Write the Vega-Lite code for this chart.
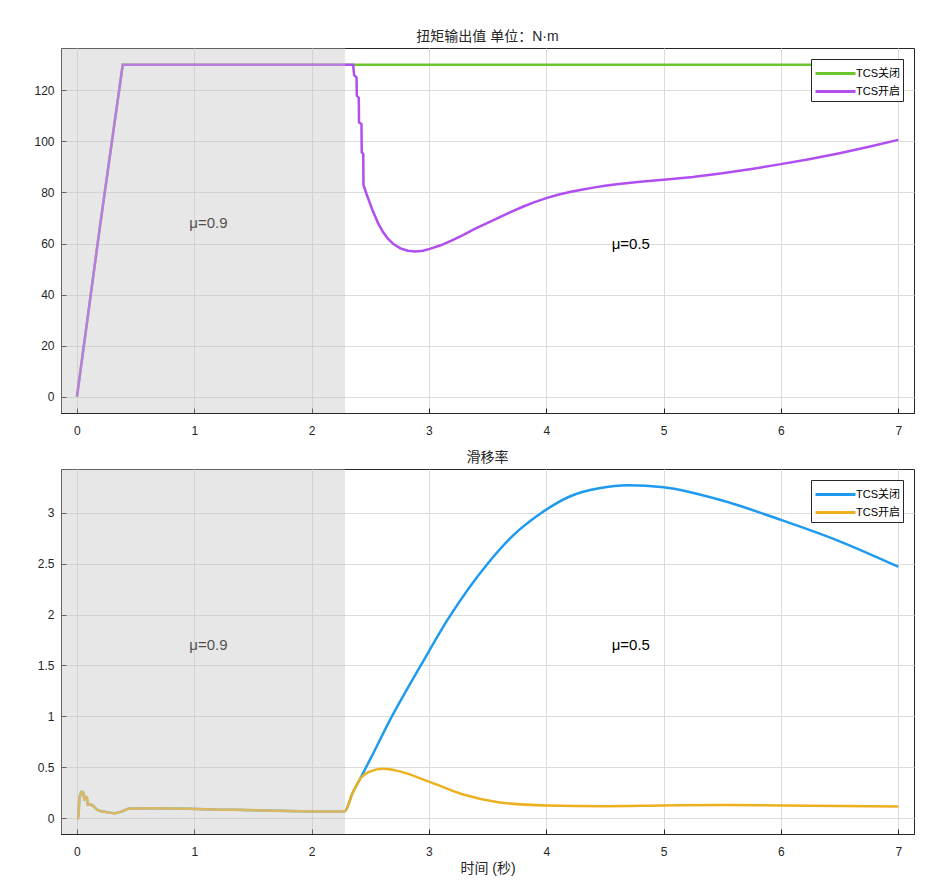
{
  "$schema": "https://vega.github.io/schema/vega-lite/v6.json",
  "padding": {"left": 5, "top": 29, "right": 5, "bottom": 5},
  "background": "white",
  "config": {
    "font": "Liberation Sans, Noto Sans CJK SC",
    "view": {"stroke": "#262626", "strokeWidth": 1},
    "axis": {
      "labelFont": "Liberation Sans, Noto Sans CJK SC",
      "labelFontSize": 12,
      "labelColor": "#262626",
      "gridColor": "#dcdcdc",
      "gridWidth": 1,
      "domainColor": "#262626",
      "tickColor": "#262626",
      "tickSize": -5,
      "titleFont": "Liberation Sans, Noto Sans CJK SC",
      "titleFontSize": 14,
      "titleFontWeight": "normal",
      "titleColor": "#262626"
    },
    "title": {"font": "Liberation Sans, Noto Sans CJK SC", "fontSize": 14, "fontWeight": "normal", "color": "#262626", "offset": 4},
    "legend": {
      "orient": "top-right",
      "offset": 11,
      "title": null,
      "symbolType": "M-1,0H3",
      "symbolSize": 400,
      "symbolStrokeWidth": 3,
      "labelFont": "Liberation Sans, Noto Sans CJK SC",
      "labelFontSize": 11,
      "labelColor": "#000000",
      "labelOffset": 19,
      "strokeColor": "#262626",
      "fillColor": "white",
      "padding": 3,
      "rowPadding": -3
    },
    "concat": {"spacing": 13}
  },
  "datasets": {
    "torque": [
      {"t": 0, "v": 0, "s": "TCS关闭"},
      {"t": 0.2, "v": 68, "s": "TCS关闭"},
      {"t": 0.39, "v": 130, "s": "TCS关闭"},
      {"t": 7, "v": 130, "s": "TCS关闭"},
      {"t": 0, "v": 0, "s": "TCS开启"},
      {"t": 0.2, "v": 68, "s": "TCS开启"},
      {"t": 0.39, "v": 130, "s": "TCS开启"},
      {"t": 2.354, "v": 130, "s": "TCS开启"},
      {"t": 2.362, "v": 126, "s": "TCS开启"},
      {"t": 2.383, "v": 125, "s": "TCS开启"},
      {"t": 2.385, "v": 118, "s": "TCS开启"},
      {"t": 2.402, "v": 117, "s": "TCS开启"},
      {"t": 2.404, "v": 107.5, "s": "TCS开启"},
      {"t": 2.425, "v": 106.8, "s": "TCS开启"},
      {"t": 2.427, "v": 95.7, "s": "TCS开启"},
      {"t": 2.44, "v": 95, "s": "TCS开启"},
      {"t": 2.442, "v": 83, "s": "TCS开启"},
      {"t": 2.468, "v": 79.4, "s": "TCS开启"},
      {"t": 2.49, "v": 76.6, "s": "TCS开启"},
      {"t": 2.51, "v": 74.1, "s": "TCS开启"},
      {"t": 2.54, "v": 70.8, "s": "TCS开启"},
      {"t": 2.567, "v": 67.9, "s": "TCS开启"},
      {"t": 2.61, "v": 64.4, "s": "TCS开启"},
      {"t": 2.652, "v": 61.8, "s": "TCS开启"},
      {"t": 2.7, "v": 59.7, "s": "TCS开启"},
      {"t": 2.757, "v": 58.1, "s": "TCS开启"},
      {"t": 2.82, "v": 57.2, "s": "TCS开启"},
      {"t": 2.885, "v": 56.9, "s": "TCS开启"},
      {"t": 2.95, "v": 57.2, "s": "TCS开启"},
      {"t": 3.007, "v": 57.9, "s": "TCS开启"},
      {"t": 3.1, "v": 59.3, "s": "TCS开启"},
      {"t": 3.192, "v": 61.1, "s": "TCS开启"},
      {"t": 3.29, "v": 63.3, "s": "TCS开启"},
      {"t": 3.39, "v": 65.7, "s": "TCS开启"},
      {"t": 3.5, "v": 68.1, "s": "TCS开启"},
      {"t": 3.618, "v": 70.6, "s": "TCS开启"},
      {"t": 3.7, "v": 72.4, "s": "TCS开启"},
      {"t": 3.8, "v": 74.4, "s": "TCS开启"},
      {"t": 3.9, "v": 76.2, "s": "TCS开启"},
      {"t": 4.0, "v": 77.8, "s": "TCS开启"},
      {"t": 4.1, "v": 79.1, "s": "TCS开启"},
      {"t": 4.2, "v": 80.2, "s": "TCS开启"},
      {"t": 4.3, "v": 81.1, "s": "TCS开启"},
      {"t": 4.4, "v": 81.9, "s": "TCS开启"},
      {"t": 4.5, "v": 82.6, "s": "TCS开启"},
      {"t": 4.6, "v": 83.2, "s": "TCS开启"},
      {"t": 4.7, "v": 83.7, "s": "TCS开启"},
      {"t": 4.8, "v": 84.2, "s": "TCS开启"},
      {"t": 4.9, "v": 84.6, "s": "TCS开启"},
      {"t": 5.0, "v": 85.0, "s": "TCS开启"},
      {"t": 5.25, "v": 86.1, "s": "TCS开启"},
      {"t": 5.5, "v": 87.5, "s": "TCS开启"},
      {"t": 5.75, "v": 89.2, "s": "TCS开启"},
      {"t": 6.0, "v": 91.1, "s": "TCS开启"},
      {"t": 6.25, "v": 93.1, "s": "TCS开启"},
      {"t": 6.5, "v": 95.4, "s": "TCS开启"},
      {"t": 6.75, "v": 97.9, "s": "TCS开启"},
      {"t": 7.0, "v": 100.6, "s": "TCS开启"}
    ],
    "slip": [
      {"t": 0, "v": 0, "s": "TCS关闭"},
      {"t": 0.012, "v": 0.0, "s": "TCS关闭"},
      {"t": 0.02, "v": 0.18, "s": "TCS关闭"},
      {"t": 0.04, "v": 0.26, "s": "TCS关闭"},
      {"t": 0.055, "v": 0.25, "s": "TCS关闭"},
      {"t": 0.063, "v": 0.18, "s": "TCS关闭"},
      {"t": 0.075, "v": 0.21, "s": "TCS关闭"},
      {"t": 0.085, "v": 0.2, "s": "TCS关闭"},
      {"t": 0.091, "v": 0.13, "s": "TCS关闭"},
      {"t": 0.11, "v": 0.137, "s": "TCS关闭"},
      {"t": 0.18, "v": 0.08, "s": "TCS关闭"},
      {"t": 0.25, "v": 0.06, "s": "TCS关闭"},
      {"t": 0.32, "v": 0.05, "s": "TCS关闭"},
      {"t": 0.38, "v": 0.065, "s": "TCS关闭"},
      {"t": 0.44, "v": 0.092, "s": "TCS关闭"},
      {"t": 0.64, "v": 0.098, "s": "TCS关闭"},
      {"t": 1.35, "v": 0.082, "s": "TCS关闭"},
      {"t": 2.28, "v": 0.066, "s": "TCS关闭"},
      {"t": 2.35, "v": 0.25, "s": "TCS关闭"},
      {"t": 2.41, "v": 0.38, "s": "TCS关闭"},
      {"t": 2.5, "v": 0.58, "s": "TCS关闭"},
      {"t": 2.675, "v": 0.98, "s": "TCS关闭"},
      {"t": 2.93, "v": 1.5, "s": "TCS关闭"},
      {"t": 3.17, "v": 1.97, "s": "TCS关闭"},
      {"t": 3.5, "v": 2.5, "s": "TCS关闭"},
      {"t": 3.72, "v": 2.78, "s": "TCS关闭"},
      {"t": 3.96, "v": 3.0, "s": "TCS关闭"},
      {"t": 4.2, "v": 3.16, "s": "TCS关闭"},
      {"t": 4.45, "v": 3.24, "s": "TCS关闭"},
      {"t": 4.7, "v": 3.27, "s": "TCS关闭"},
      {"t": 5.0, "v": 3.25, "s": "TCS关闭"},
      {"t": 5.5, "v": 3.12, "s": "TCS关闭"},
      {"t": 6.0, "v": 2.93, "s": "TCS关闭"},
      {"t": 6.5, "v": 2.72, "s": "TCS关闭"},
      {"t": 7.0, "v": 2.47, "s": "TCS关闭"},
      {"t": 0, "v": 0, "s": "TCS开启"},
      {"t": 0.012, "v": 0.0, "s": "TCS开启"},
      {"t": 0.02, "v": 0.18, "s": "TCS开启"},
      {"t": 0.04, "v": 0.26, "s": "TCS开启"},
      {"t": 0.055, "v": 0.25, "s": "TCS开启"},
      {"t": 0.063, "v": 0.18, "s": "TCS开启"},
      {"t": 0.075, "v": 0.21, "s": "TCS开启"},
      {"t": 0.085, "v": 0.2, "s": "TCS开启"},
      {"t": 0.091, "v": 0.13, "s": "TCS开启"},
      {"t": 0.11, "v": 0.137, "s": "TCS开启"},
      {"t": 0.18, "v": 0.08, "s": "TCS开启"},
      {"t": 0.25, "v": 0.06, "s": "TCS开启"},
      {"t": 0.32, "v": 0.05, "s": "TCS开启"},
      {"t": 0.38, "v": 0.065, "s": "TCS开启"},
      {"t": 0.44, "v": 0.092, "s": "TCS开启"},
      {"t": 0.64, "v": 0.098, "s": "TCS开启"},
      {"t": 1.35, "v": 0.082, "s": "TCS开启"},
      {"t": 2.28, "v": 0.066, "s": "TCS开启"},
      {"t": 2.35, "v": 0.25, "s": "TCS开启"},
      {"t": 2.41, "v": 0.38, "s": "TCS开启"},
      {"t": 2.5, "v": 0.46, "s": "TCS开启"},
      {"t": 2.61, "v": 0.485, "s": "TCS开启"},
      {"t": 2.75, "v": 0.46, "s": "TCS开启"},
      {"t": 3.0, "v": 0.36, "s": "TCS开启"},
      {"t": 3.3, "v": 0.23, "s": "TCS开启"},
      {"t": 3.59, "v": 0.157, "s": "TCS开启"},
      {"t": 4.0, "v": 0.125, "s": "TCS开启"},
      {"t": 4.5, "v": 0.118, "s": "TCS开启"},
      {"t": 5.0, "v": 0.125, "s": "TCS开启"},
      {"t": 5.5, "v": 0.13, "s": "TCS开启"},
      {"t": 6.0, "v": 0.125, "s": "TCS开启"},
      {"t": 6.5, "v": 0.12, "s": "TCS开启"},
      {"t": 7.0, "v": 0.115, "s": "TCS开启"}
    ],
    "zones": [{"x1": -0.136, "x2": 2.285}],
    "labels": [
      {"panel": "torque", "t": 1.12, "v": 68.2, "label": "μ=0.9"},
      {"panel": "torque", "t": 4.72, "v": 60, "label": "μ=0.5"},
      {"panel": "slip", "t": 1.12, "v": 1.7, "label": "μ=0.9"},
      {"panel": "slip", "t": 4.72, "v": 1.7, "label": "μ=0.5"}
    ]
  },
  "vconcat": [
    {
      "width": 853,
      "height": 365,
      "title": {"text": "扭矩输出值 单位：N·m"},
      "layer": [
        {
          "data": {"name": "torque"},
          "transform": [{"filter": "datum.s === 'TCS关闭'"}],
          "mark": {"type": "line", "strokeWidth": 2.5, "clip": true},
          "encoding": {
            "x": {"field": "t", "type": "quantitative", "scale": {"domain": [-0.136, 7.134], "nice": false, "zero": false}, "axis": {"values": [0, 1, 2, 3, 4, 5, 6, 7], "format": "d", "title": null, "labelPadding": 17}},
            "y": {"field": "v", "type": "quantitative", "scale": {"domain": [-6.4, 136.6], "nice": false, "zero": false}, "axis": {"values": [0, 20, 40, 60, 80, 100, 120], "format": "d", "title": null, "labelPadding": 12, "minExtent": 55, "maxExtent": 55}},
            "color": {"field": "s", "type": "nominal", "scale": {"domain": ["TCS关闭", "TCS开启"], "range": ["#6cc62e", "#b14ef0"]}}
          }
        },
        {
          "data": {"name": "torque"},
          "transform": [{"filter": "datum.s === 'TCS开启'"}],
          "mark": {"type": "line", "strokeWidth": 2.5, "clip": true},
          "encoding": {
            "x": {"field": "t", "type": "quantitative"},
            "y": {"field": "v", "type": "quantitative"},
            "color": {"field": "s", "type": "nominal"}
          }
        },
        {
          "data": {"name": "labels"},
          "transform": [{"filter": "datum.panel === 'torque'"}],
          "mark": {"type": "text", "fontSize": 15, "color": "#000000", "font": "Liberation Sans"},
          "encoding": {
            "x": {"field": "t", "type": "quantitative"},
            "y": {"field": "v", "type": "quantitative"},
            "text": {"field": "label"}
          }
        },
        {
          "data": {"name": "zones"},
          "mark": {"type": "rect", "color": "#c4c4c4", "opacity": 0.4},
          "encoding": {
            "x": {"field": "x1", "type": "quantitative"},
            "x2": {"field": "x2"}
          }
        }
      ]
    },
    {
      "width": 853,
      "height": 365,
      "title": {"text": "滑移率"},
      "layer": [
        {
          "data": {"name": "slip"},
          "transform": [{"filter": "datum.s === 'TCS关闭'"}],
          "mark": {"type": "line", "strokeWidth": 2.5, "clip": true, "interpolate": "monotone"},
          "encoding": {
            "x": {"field": "t", "type": "quantitative", "scale": {"domain": [-0.136, 7.134], "nice": false, "zero": false}, "axis": {"values": [0, 1, 2, 3, 4, 5, 6, 7], "format": "d", "title": "时间 (秒)", "labelPadding": 17, "titlePadding": 4}},
            "y": {"field": "v", "type": "quantitative", "scale": {"domain": [-0.155, 3.43], "nice": false, "zero": false}, "axis": {"values": [0, 0.5, 1, 1.5, 2, 2.5, 3], "format": "~g", "title": null, "labelPadding": 12, "minExtent": 55, "maxExtent": 55}},
            "color": {"field": "s", "type": "nominal", "scale": {"domain": ["TCS关闭", "TCS开启"], "range": ["#1e9bf0", "#edb120"]}}
          }
        },
        {
          "data": {"name": "slip"},
          "transform": [{"filter": "datum.s === 'TCS开启'"}],
          "mark": {"type": "line", "strokeWidth": 2.5, "clip": true, "interpolate": "monotone"},
          "encoding": {
            "x": {"field": "t", "type": "quantitative"},
            "y": {"field": "v", "type": "quantitative"},
            "color": {"field": "s", "type": "nominal"}
          }
        },
        {
          "data": {"name": "labels"},
          "transform": [{"filter": "datum.panel === 'slip'"}],
          "mark": {"type": "text", "fontSize": 15, "color": "#000000", "font": "Liberation Sans"},
          "encoding": {
            "x": {"field": "t", "type": "quantitative"},
            "y": {"field": "v", "type": "quantitative"},
            "text": {"field": "label"}
          }
        },
        {
          "data": {"name": "zones"},
          "mark": {"type": "rect", "color": "#c4c4c4", "opacity": 0.4},
          "encoding": {
            "x": {"field": "x1", "type": "quantitative"},
            "x2": {"field": "x2"}
          }
        }
      ]
    }
  ],
  "resolve": {"scale": {"color": "independent"}}
}
